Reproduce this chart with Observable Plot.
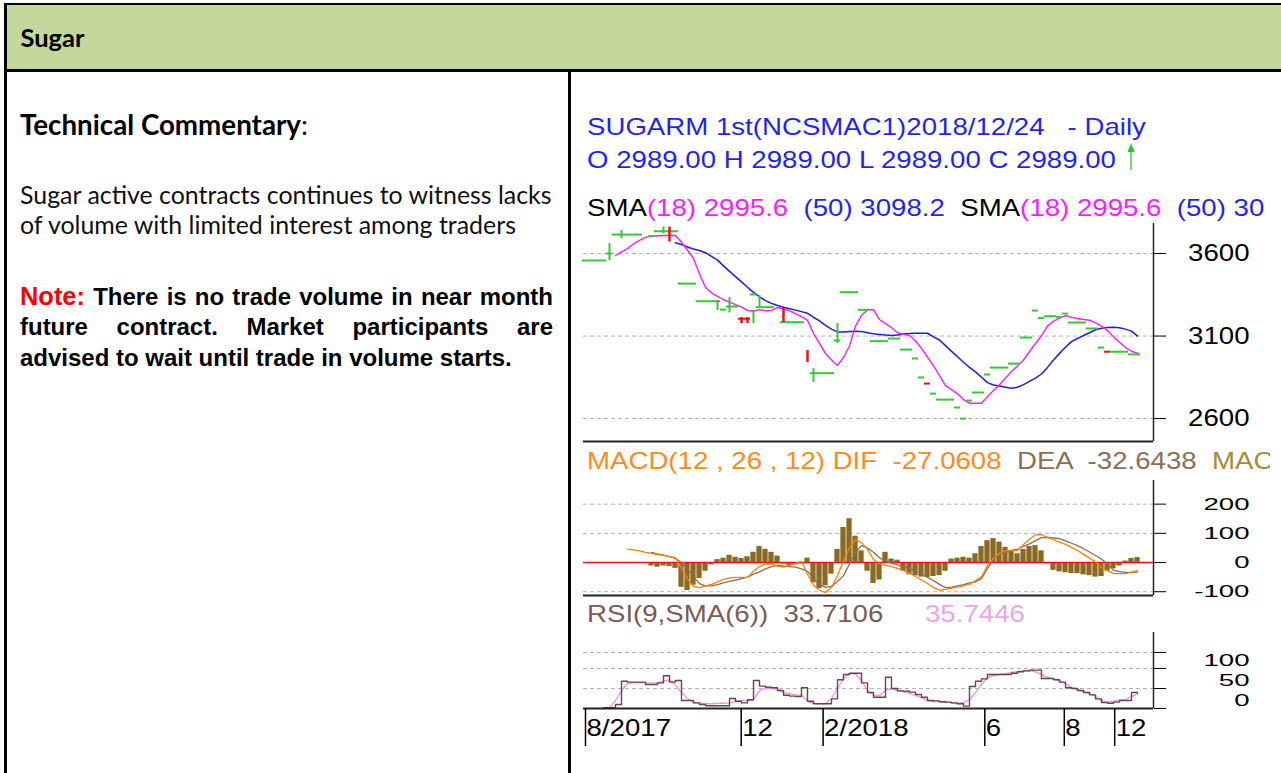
<!DOCTYPE html>
<html>
<head>
<meta charset="utf-8">
<script src="https://cdn.jsdelivr.net/npm/d3@7"></script>
<script src="https://cdn.jsdelivr.net/npm/@observablehq/plot@0.6"></script>
<style>
html, body { margin:0; padding:0; background:#fff; }
body { width:1281px; height:773px; position:relative; overflow:hidden; }
.blk { position:absolute; background:#000; }
#chart { position:absolute; left:572px; top:72px; width:698px; height:701px; overflow:hidden; }
#chart > svg { position:absolute; left:3px; margin:0; max-width:none; }
#overlay { position:absolute; left:0; top:0; pointer-events:none; }
#overlay text { white-space: pre; }
</style>
</head>
<body>
<div style="position:absolute;left:7px;top:5px;width:1274px;height:64px;background:#c4d79b"></div>
<div class="blk" style="left:4px;top:3px;width:1277px;height:2px"></div>
<div class="blk" style="left:4px;top:69px;width:1277px;height:3px"></div>
<div class="blk" style="left:4px;top:3px;width:3px;height:770px"></div>
<div class="blk" style="left:568px;top:70px;width:3px;height:703px"></div>
<div id="chart"></div>
<svg id="overlay" width="1281" height="773"></svg>
<script>
// ---------------- data (one value per sample, bar index 0..92) ----------------
const priceClose = [
 3558,3558,3558,3558,3600,3715,3715,3715,3715,3715,
 null,3705,3735,3735,3735,3735,3418,3418,3418,3311,
 3311,3311,3311,3260,3279,3279,3205,3205,3352,3275,
 3275,3275,null,3184,3184,3184,3184,null,2875,2875,
 2875,2875,3073,3366,3366,3366,3259,3259,3069,3069,
 3069,3085,3085,3018,3018,2964,2849,2812,2751,2715,
 2715,2715,2667,2600,2709,2758,2758,2867,2909,2909,
 2909,2933,2933,3091,3091,3254,3209,3220,3220,3215,
 3236,3182,3182,3182,3146,3146,3030,3005,3005,3005,
 3005,2989,2989];
const downDays = [26, 27, 57, 87];
const barIdx  = [4, 6, 13, 14, 22, 24, 26, 27, 28, 29, 33, 37, 38, 42];
const barLow  = [3558,3690,3720,3670,3255,3240,3176,3176,3176,3273,3182,2940,2818,3055];
const barHigh = [3660,3740,3760,3760,3315,3333,3212,3212,3255,3345,3267,3012,2903,3176];
const barUp   = [true,true,true,false,true,true,false,false,true,true,false,false,true,true];

const sma18 = [
 null,null,null,null,null,3588,3610,3630,3658,3680,
 3698,3706,3708,3709,3709,3709,3668,3620,3570,3475,
 3396,3362,3340,3320,3305,3290,3275,3255,3250,3260,
 3253,3255,3272,3265,3252,3235,3218,3195,3115,3055,
 2994,2955,2922,2970,3040,3160,3225,3259,3259,3200,
 3175,3150,3120,3110,3104,3070,3025,2972,2920,2860,
 2800,2775,2750,2715,2693,2693,2693,2733,2770,2805,
 2845,2885,2918,2955,3005,3055,3102,3160,3190,3208,
 3224,3213,3206,3200,3196,3180,3160,3133,3095,3063,
 3030,3008,2996];
const sma50 = [
 null,null,null,null,null,null,null,null,null,null,
 null,null,null,null,null,3665,3655,3640,3628,3618,
 3605,3583,3560,3525,3492,3460,3428,3396,3365,3338,
 3315,3298,3285,3275,3265,3257,3248,3238,3214,3192,
 3165,3142,3125,3124,3127,3129,3128,3120,3114,3110,
 3106,3104,3107,3112,3116,3117,3117,3117,3095,3076,
 3042,3007,2975,2941,2910,2883,2850,2818,2803,2797,
 2790,2783,2790,2806,2825,2845,2870,2910,2955,2995,
 3032,3066,3085,3103,3120,3138,3147,3152,3153,3150,
 3142,3130,3100];

const macdDif = [
 null,null,null,null,null,null,null,46,43,40,
 35,31,27,24,20,17,-20,-55,-82,-86,
 -80,-75,-66,-58,-53,-51,-51,-51,-30,-14,
 -5,-5,-12,-16,-10,-3,4,-40,-78,-95,
 -103,-85,-45,5,50,78,68,45,10,-5,
 -10,-14,-20,-28,-36,-48,-60,-72,-85,-95,
 -92,-88,-84,-80,-74,-62,-48,-10,15,32,
 41,41,41,62,80,95,96,86,78,70,
 62,52,41,28,15,2,-18,-28,-38,-38,
 -38,-33,-27];
const macdDea = [
 null,null,null,null,null,null,null,null,null,null,
 null,35,30,25,20,14,0,-22,-50,-72,
 -80,-80,-76,-70,-65,-60,-55,-50,-40,-32,
 -22,-14,-10,-12,-14,-16,-22,-30,-55,-75,
 -85,-82,-65,-45,-5,35,58,50,35,16,
 5,-2,-8,-14,-20,-28,-40,-51,-62,-75,
 -86,-84,-80,-76,-70,-66,-55,-20,10,28,
 36,42,45,55,64,75,85,86,84,82,
 74,66,58,47,36,24,12,-5,-27,-31,
 -34,-34,-33];
const macdHist = [
 null,null,null,null,null,null,null,null,null,null,
 null,-12,-16,-12,-14,-20,-85,-96,-78,-55,
 -30,-8,10,15,25,18,14,20,35,55,
 45,35,22,-6,-10,-8,-5,15,-70,-89,
 -80,-40,45,120,150,90,40,-30,-72,-60,
 35,12,8,-30,-42,-46,-50,-51,-48,-45,
 -30,12,15,18,15,30,55,75,82,70,
 52,38,30,45,55,58,40,-5,-27,-32,
 -35,-38,-38,-42,-45,-50,-48,-30,-22,-12,
 5,14,17];

const rsi = [
 null,null,null,2,2,10,68,66,66,66,
 60,60,64,82,66,70,20,20,14,10,
 7,7,7,7,25,18,14,22,70,56,
 53,52,45,33,31,30,52,18,12,12,
 12,24,72,85,88,88,64,40,28,28,
 78,50,44,43,41,35,28,20,19,17,
 16,14,12,6,55,68,74,85,85,85,
 85,88,92,94,96,96,75,75,72,66,
 52,50,45,40,34,24,15,13,16,20,
 20,40,38];
const rsiSma = [
 null,null,null,null,2,20,45,63,64,64,
 64,64,64,68,72,58,40,25,15,14,
 12,12,13,13,14,17,20,20,22,45,
 50,50,48,40,37,34,33,18,13,12,
 12,25,50,75,87,87,70,45,33,32,
 45,50,45,43,38,33,27,20,18,17,
 16,14,12,15,22,40,60,78,82,85,
 87,90,92,94,95,92,85,78,74,70,
 62,53,47,42,38,30,20,16,18,21,
 22,30,36];

const monthTickPos = [0, 25.95, 39.6, 66.55, 79.8, 88.2];
const monthLabels = ["8/2017", "12", "2/2018", "6", "8", "12"];
const priceTicks = [2600, 3100, 3600];
const macdTicks = [-100, 0, 100, 200];
const macdGrid = [-100, 100, 200];
const rsiTicks = [0, 50, 100, 140];
const rsiGrid = [50, 100, 140];
const rsiTickLabels = [0, 50, 100];

const titleLine1 = "SUGARM 1st(NCSMAC1)2018/12/24   - Daily";
const titleLine2 = "O 2989.00 H 2989.00 L 2989.00 C 2989.00";
const smaParts = [["SMA","k"],["(18) 2995.6","m"],["  (50) 3098.2","b"],["  SMA","k"],["(18) 2995.6","m"],["  (50) 30","b"]];
const macdTitle = [["MACD(12 , 26 , 12) DIF  -27.0608","dif"],["  DEA  -32.6438","dea"],["  MAC","mac"]];
const rsiTitle = "RSI(9,SMA(6))  33.7106";
const rsiSmaTitle = "35.7446";

const headerText = "Sugar";
const commentHead = "Technical Commentary";
const bodyLines = ["Sugar active contracts continues to witness lacks", "of volume with limited interest among traders"];
const noteHead = "Note:";
const noteLine1 = "There is no trade volume in near month";
const noteLine2 = "future contract. Market participants are";
const noteLine3 = "advised to wait until trade in volume starts.";

// ---------------- helpers ----------------
const NS = "http://www.w3.org/2000/svg";
const FONT = "'Liberation Sans', Arial, sans-serif";
const LATO = "Lato, 'Open Sans', sans-serif";
const ctx = document.createElement("canvas").getContext("2d");
function tw(text, font) { ctx.font = font; return ctx.measureText(text).width; }
const SX = 559 / tw(titleLine1, `24px ${FONT}`);

const rows = priceClose.map((c, i) => ({
  i, close: c, s18: sma18[i], s50: sma50[i], dif: macdDif[i], dea: macdDea[i],
  hist: macdHist[i], rsi: rsi[i], rsiS: rsiSma[i], down: downDays.includes(i)
}));
const bars = barIdx.map((b, k) => ({i: b, lo: barLow[k], hi: barHigh[k], up: barUp[k]}));
const has = k => rows.filter(d => d[k] != null);
const labelMap = new Map(monthTickPos.map((p, k) => [p, monthLabels[k]]));

const W = 695, ML = 8, MR = 117;
const xDomain = [-1/3, 284/3];
const GREEN = "#35c935", RED = "#f01010";

function panel(topPage, plotH, yDomain, marks, mb) {
  const svg = Plot.plot({
    width: W, height: 8 + plotH + mb,
    marginLeft: ML, marginRight: MR, marginTop: 8, marginBottom: mb,
    x: {domain: xDomain, axis: null, label: null},
    y: {domain: yDomain, axis: null, label: null},
    style: {background: "transparent", overflow: "visible", fontFamily: FONT, color: "black"},
    marks
  });
  svg.style.top = (topPage - 72) + "px";
  document.getElementById("chart").appendChild(svg);
  return svg;
}
function scaleTexts(root, selector, sx, sy) {
  root.querySelectorAll(selector).forEach(t => {
    const tr = t.getAttribute("transform");
    if (tr) t.setAttribute("transform", tr + ` scale(${sx},${sy})`);
  });
}
const dash = {stroke: "#b4b4b4", strokeOpacity: 1, strokeDasharray: "4,3"};

// ---------------- price panel ----------------
const yP = [2461, 3782];
const closes = has("close");
const svgP = panel(215, 218, yP, [
  Plot.gridY(priceTicks, dash),
  Plot.line(has("s50"), {x: "i", y: "s50", stroke: "#1c1cf5", strokeWidth: 1.5}),
  Plot.line(has("s18"), {x: "i", y: "s18", stroke: "#ff1aff", strokeWidth: 1.4}),
  Plot.ruleY(closes.filter(d => !d.down), {y: "close", x1: d => d.i - 0.5, x2: d => d.i + 0.5, stroke: GREEN, strokeWidth: 2}),
  Plot.ruleY(closes.filter(d => d.down), {y: "close", x1: d => d.i - 0.5, x2: d => d.i + 0.5, stroke: RED, strokeWidth: 2}),
  Plot.ruleX(bars.filter(b => b.up), {x: "i", y1: "lo", y2: "hi", stroke: GREEN, strokeWidth: 2}),
  Plot.ruleX(bars.filter(b => !b.up), {x: "i", y1: "lo", y2: "hi", stroke: RED, strokeWidth: 2.5}),
  Plot.ruleY([yP[0]], {stroke: "#222", strokeWidth: 2}),
  Plot.ruleX([xDomain[1]], {stroke: "#222", strokeWidth: 1.5}),
  Plot.axisY(priceTicks, {anchor: "right", label: null, tickSize: 12, tickPadding: 84, textAnchor: "end", fontSize: 24, tickFormat: d => String(d)})
], 6);
scaleTexts(svgP, 'g[aria-label="y-axis tick label"] text', SX, 1);

// ---------------- MACD panel ----------------
const yM = [-113, 281];
const svgM = panel(472, 115, yM, [
  Plot.gridY(macdGrid, dash),
  Plot.rect(has("hist"), {x1: d => d.i - 0.44, x2: d => d.i + 0.44, y1: () => 0, y2: "hist", fill: "#8b6a24"}),
  Plot.ruleY([0], {stroke: "#ff1010", strokeWidth: 1.6}),
  Plot.line(has("dea"), {x: "i", y: "dea", stroke: "#8c6d58", strokeWidth: 1.3}),
  Plot.line(has("dif"), {x: "i", y: "dif", stroke: "#ff8000", strokeWidth: 1.3}),
  Plot.ruleY([yM[0]], {stroke: "#222", strokeWidth: 2}),
  Plot.ruleX([xDomain[1]], {stroke: "#222", strokeWidth: 1.5}),
  Plot.axisY(macdTicks, {anchor: "right", label: null, tickSize: 12, tickPadding: 84, textAnchor: "end", fontSize: 24, tickFormat: d => String(d)})
], 6);
scaleTexts(svgM, 'g[aria-label="y-axis tick label"] text', SX, 0.7);

// ---------------- RSI panel + time axis ----------------
const yR = [0, 190];
const svgR = panel(624, 76, yR, [
  Plot.gridY(rsiGrid, dash),
  Plot.line(has("rsiS"), {x: "i", y: "rsiS", stroke: "#e89ae8", strokeWidth: 1.4}),
  Plot.line(has("rsi"), {x: "i", y: "rsi", stroke: "#6b4646", strokeWidth: 1.4, curve: "step-after"}),
  Plot.ruleY([0], {stroke: "#222", strokeWidth: 2}),
  Plot.ruleX([xDomain[1]], {stroke: "#222", strokeWidth: 1.5}),
  Plot.axisY(rsiTicks, {anchor: "right", label: null, tickSize: 12, tickFormat: () => ""}),
  Plot.text(rsiTickLabels, {y: d => d, text: d => String(d), frameAnchor: "right", dx: 96, dy: -8, textAnchor: "end", fontSize: 24, fill: "black", stroke: "white", strokeWidth: 5}),
  // month separators (tick lines only)
  Plot.axisX(monthTickPos, {anchor: "bottom", label: null, tickSize: 38, strokeWidth: 1.5, tickFormat: () => ""}),
  // month labels, set beside the separators
  Plot.axisX(monthTickPos, {anchor: "bottom", label: null, tickSize: 0, tickPadding: 0, textAnchor: "start", dx: 1, dy: 10, fontSize: 24, tickFormat: d => labelMap.get(d)})
], 48);
scaleTexts(svgR, 'g[aria-label="x-axis tick label"] text', SX, 1);
scaleTexts(svgR, 'g[aria-label="text"] text', SX, 0.72);

// ---------------- overlay text ----------------
const ov = document.getElementById("overlay");
const defs = document.createElementNS(NS, "defs");
defs.innerHTML = '<clipPath id="cc"><rect x="572" y="72" width="698" height="701"></rect></clipPath>';
ov.appendChild(defs);
const chartG = document.createElementNS(NS, "g");
chartG.setAttribute("clip-path", "url(#cc)");
ov.appendChild(chartG);

function addText(parent, x, y, parts, sx = 1) {
  const g = document.createElementNS(NS, "g");
  g.setAttribute("transform", `translate(${x},${y}) scale(${sx},1)`);
  const t = document.createElementNS(NS, "text");
  for (const p of parts) {
    const s = document.createElementNS(NS, "tspan");
    s.textContent = p.t;
    s.setAttribute("fill", p.fill || "#000");
    s.setAttribute("font-family", p.family);
    s.setAttribute("font-size", p.size);
    s.setAttribute("font-weight", p.weight || "normal");
    if (p.x != null) { s.setAttribute("x", p.x); s.setAttribute("y", 0); }
    t.appendChild(s);
  }
  g.appendChild(t);
  parent.appendChild(g);
}
function justify(y, x0, width, words) {
  const ws = words.map(w => tw(w.t, `${w.weight || "normal"} ${w.size}px ${w.family}`));
  const gap = (width - d3.sum(ws)) / (words.length - 1);
  let x = 0;
  const parts = words.map((w, k) => { const p = {...w, x}; x += ws[k] + gap; return p; });
  addText(ov, x0, y, parts);
}

// header + left column
const sHead = 20 * 64 / tw(headerText, `bold 20px ${LATO}`);
addText(ov, 20.5, 46.5, [{t: headerText, family: LATO, size: sHead, weight: "bold"}]);
const sCom = 20 * 288 / (tw(commentHead, `bold 20px ${LATO}`) + tw(":", `20px ${LATO}`));
addText(ov, 20, 135, [{t: commentHead, family: LATO, size: sCom, weight: "bold"}, {t: ":", family: LATO, size: sCom}]);
const sBody = 20 * 533 / tw(bodyLines[0], `20px ${LATO}`);
addText(ov, 20, 204, [{t: bodyLines[0], family: LATO, size: sBody, fill: "#111"}]);
addText(ov, 20, 234, [{t: bodyLines[1], family: LATO, size: sBody, fill: "#111"}]);
const ARIAL = "'Liberation Sans', Arial, sans-serif";
const sNote = 20 * 492 / tw(noteLine3, `bold 20px ${ARIAL}`);
const nw = t => ({t, family: ARIAL, size: sNote, weight: "bold", fill: "#000"});
justify(305, 20, 533, [{t: noteHead, family: ARIAL, size: sNote * 1.06, weight: "bold", fill: "#ff0000"}, ...noteLine1.split(" ").map(nw)]);
justify(335, 20, 533, noteLine2.split(" ").map(nw));
addText(ov, 20, 365.5, [nw(noteLine3)]);

// chart titles
const CB = "#1f1fff";
const ct = (t, fill) => ({t, fill, family: FONT, size: 24});
addText(chartG, 587, 134.5, [ct(titleLine1, CB)], SX);
addText(chartG, 587, 168, [ct(titleLine2, CB)], SX);
const smaCol = {k: "#000", m: "#ff1aff", b: "#1f1fff"};
addText(chartG, 587, 215.5, smaParts.map(([t, c]) => ct(t, smaCol[c])), SX);
const macdCol = {dif: "#ff8a1a", dea: "#8c6e55", mac: "#a8893e"};
addText(chartG, 587, 469, macdTitle.map(([t, c]) => ct(t, macdCol[c])), SX);
addText(chartG, 587, 622, [ct(rsiTitle, "#7d5a55")], SX);
addText(chartG, 925, 622, [ct(rsiSmaTitle, "#eaa6ea")], SX);

// small green up-arrow after the OHLC line
const arrow = document.createElementNS(NS, "g");
arrow.innerHTML = '<line x1="1131" y1="170" x2="1131" y2="149" stroke="#22cc22" stroke-width="1.3"></line><polygon points="1127.5,152 1131,143 1134.5,152" fill="#22cc22"></polygon>';
chartG.appendChild(arrow);
</script>
</body>
</html>
